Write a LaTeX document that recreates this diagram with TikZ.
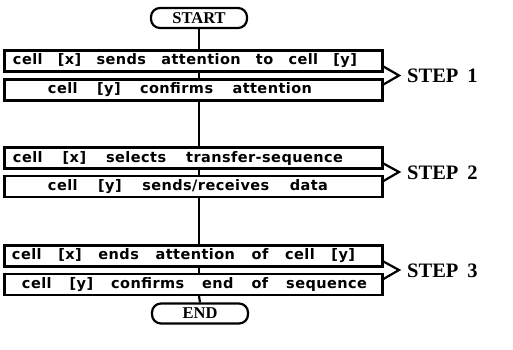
\documentclass[tikz,border=0pt]{standalone}
\usepackage{fontspec}
\usetikzlibrary{calc}
\newfontfamily\boxfont[LetterSpace=3]{DejaVu Sans Bold}
\newfontfamily\stepfont{Liberation Serif Bold}
% box line: left offset, text width, words spread evenly across that width
\newcommand\boxline[3]{\hbox to 378bp{\hskip #1\hbox to #2{\spaceskip=0.3em plus 1fil\relax #3}\hss}}
\tikzset{
  stepbox/.style={draw, line width=2.2bp, minimum width=378bp, minimum height=21bp,
    inner xsep=0pt, inner ysep=0pt, font=\boxfont\fontsize{14.5bp}{15bp}\selectfont},
  terminal/.style={draw, line width=2.2bp, rounded corners=9bp, minimum width=96bp,
    minimum height=20bp, inner sep=0pt, font=\stepfont\fontsize{16.5bp}{17bp}\selectfont},
  flow/.style={line width=2.2bp},
  brace/.style={line width=2.2bp, line join=miter},
  steplabel/.style={anchor=west, inner sep=0pt, font=\stepfont\fontsize{20.5bp}{22bp}\selectfont}
}
\begin{document}
\begin{tikzpicture}[x=1bp, y=-1bp]
\useasboundingbox (0,0) rectangle (513,349);

\node[terminal] (start) at (199,18) {START};
\node[stepbox] (b1) at (193.5,61)   {\boxline{8.5bp}{344bp}{cell [x] sends attention to cell [y]}};
\node[stepbox] (b2) at (193.5,90)   {\boxline{43.5bp}{264bp}{cell [y] confirms attention}};
\node[stepbox] (b3) at (193.5,158)  {\boxline{8.5bp}{330bp}{cell [x] selects transfer-sequence}};
\node[stepbox] (b4) at (193.5,186.5){\boxline{43.5bp}{280bp}{cell [y] sends/receives data}};
\node[stepbox] (b5) at (193.5,256)  {\boxline{7.5bp}{343bp}{cell [x] ends attention of cell [y]}};
\node[stepbox] (b6) at (193.5,284.5){\boxline{17.5bp}{345bp}{cell [y] confirms end of sequence}};
\node[terminal] (end) at (200,313.5) {END};

% vertical flow line through the gaps
\draw[flow] (start.south) -- (start.south |- b1.north);
\draw[flow] (start.south |- b1.south) -- (start.south |- b2.north);
\draw[flow] (start.south |- b2.south) -- (start.south |- b3.north);
\draw[flow] (start.south |- b3.south) -- (start.south |- b4.north);
\draw[flow] (start.south |- b4.south) -- (start.south |- b5.north);
\draw[flow] (start.south |- b5.south) -- (start.south |- b6.north);
\draw[flow] (start.south |- b6.south) -- (end.north);

% angle brackets grouping each pair of boxes
\coordinate (tip1) at (399,75.5);
\coordinate (tip2) at (399,172);
\coordinate (tip3) at (399,270);
\draw[brace] ($(b1.south east)+(0,-6)$) -- (tip1) -- ($(b2.north east)+(0,6)$);
\draw[brace] ($(b3.south east)+(0,-6)$) -- (tip2) -- ($(b4.north east)+(0,6)$);
\draw[brace] ($(b5.south east)+(0,-6)$) -- (tip3) -- ($(b6.north east)+(0,6)$);

\node[steplabel] (s1) at (407,76) {STEP\hspace{9bp}1};
\node[steplabel] (s2) at (407,172.5) {STEP\hspace{9bp}2};
\node[steplabel] (s3) at (407,270.5) {STEP\hspace{9bp}3};
\end{tikzpicture}
\end{document}
